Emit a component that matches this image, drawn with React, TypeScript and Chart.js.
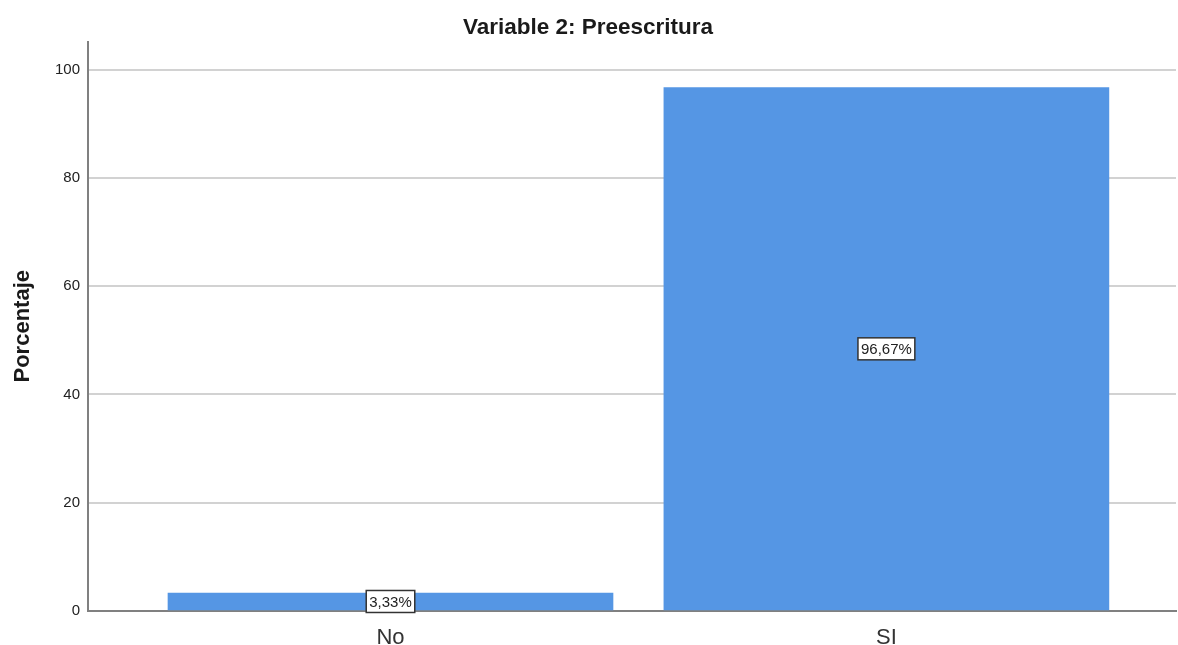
import React, { useEffect, useRef } from "react";
import { Chart, registerables } from "chart.js";

Chart.register(...registerables);

const categories = ["No", "SI"];
const percentages = [3.33, 96.67];
const valueLabels = ["3,33%", "96,67%"];
const yTicks = [0, 20, 40, 60, 80, 100];
const chartTitle = "Variable 2: Preescritura";
const yTitle = "Porcentaje";

const FONT = "'Liberation Sans', Arial, sans-serif";

const boxLabelPlugin = {
  id: "boxLabels",
  afterDatasetsDraw(chart: any) {
    const ctx = chart.ctx;
    const meta = chart.getDatasetMeta(0);
    ctx.save();
    ctx.font = `15px ${FONT}`;
    ctx.textAlign = "center";
    ctx.textBaseline = "middle";
    meta.data.forEach((bar: any, i: number) => {
      const text = valueLabels[i];
      const cx = bar.x;
      const cy = (bar.y + bar.base) / 2;
      const w = ctx.measureText(text).width + 6;
      const h = 22;
      ctx.fillStyle = "#ffffff";
      ctx.fillRect(cx - w / 2, cy - h / 2, w, h);
      ctx.strokeStyle = "#333333";
      ctx.lineWidth = 1.5;
      ctx.strokeRect(cx - w / 2, cy - h / 2, w, h);
      ctx.fillStyle = "#222222";
      ctx.fillText(text, cx, cy + 1);
    });
    ctx.restore();
  },
};

export default function App() {
  const ref = useRef<HTMLCanvasElement | null>(null);
  useEffect(() => {
    if (!ref.current) return;
    const chart = new Chart(ref.current, {
      type: "bar",
      data: {
        datasets: [
          {
            data: percentages.map((v, i) => ({ x: i, y: v })),
            backgroundColor: "#5596E4",
            barThickness: 445,
            borderWidth: 0,
          },
        ],
      },
      options: {
        animation: false,
        responsive: false,
        layout: { padding: { left: 0, right: 2, top: 0, bottom: 0 } },
        plugins: {
          legend: { display: false },
          tooltip: { enabled: false },
          title: {
            display: true,
            text: chartTitle,
            color: "#1a1a1a",
            font: { family: FONT, size: 22.5, weight: "bold" },
            padding: { top: 14.5, bottom: 0 },
          },
        },
        scales: {
          x: {
            type: "linear",
            offset: false,
            min: -0.61,
            max: 1.584,
            grid: { display: false, drawTicks: false },
            border: { display: true, color: "#808080", width: 2 },
            afterBuildTicks: (scale: any) => {
              scale.ticks = categories.map((_, i) => ({ value: i }));
            },
            afterFit: (scale: any) => {
              scale.height = 34;
            },
            ticks: {
              callback: (v: any) => categories[v] ?? "",
              color: "#333333",
              font: { family: FONT, size: 22 },
              padding: 14,
              maxRotation: 0,
            },
          },
          y: {
            type: "linear",
            min: 0,
            max: 105.2,
            afterBuildTicks: (scale: any) => {
              scale.ticks = yTicks.map((v) => ({ value: v }));
            },
            afterFit: (scale: any) => {
              scale.width = 88;
            },
            grid: { color: "#d2d2d2", lineWidth: 2, drawTicks: false },
            border: { display: true, color: "#808080", width: 2 },
            ticks: {
              color: "#222222",
              font: { family: FONT, size: 15 },
              padding: 8,
            },
            title: {
              display: true,
              text: yTitle,
              color: "#1a1a1a",
              font: { family: FONT, size: 22, weight: "bold" },
              padding: { top: 10, bottom: 0 },
            },
          },
        },
      },
      plugins: [boxLabelPlugin],
    } as any);
    return () => chart.destroy();
  }, []);
  return (
    <div style={{ position: "fixed", left: 0, top: 0, width: 1178, height: 645, background: "#fff" }}>
      <canvas ref={ref} width={1178} height={645} style={{ display: "block" }} />
    </div>
  );
}
